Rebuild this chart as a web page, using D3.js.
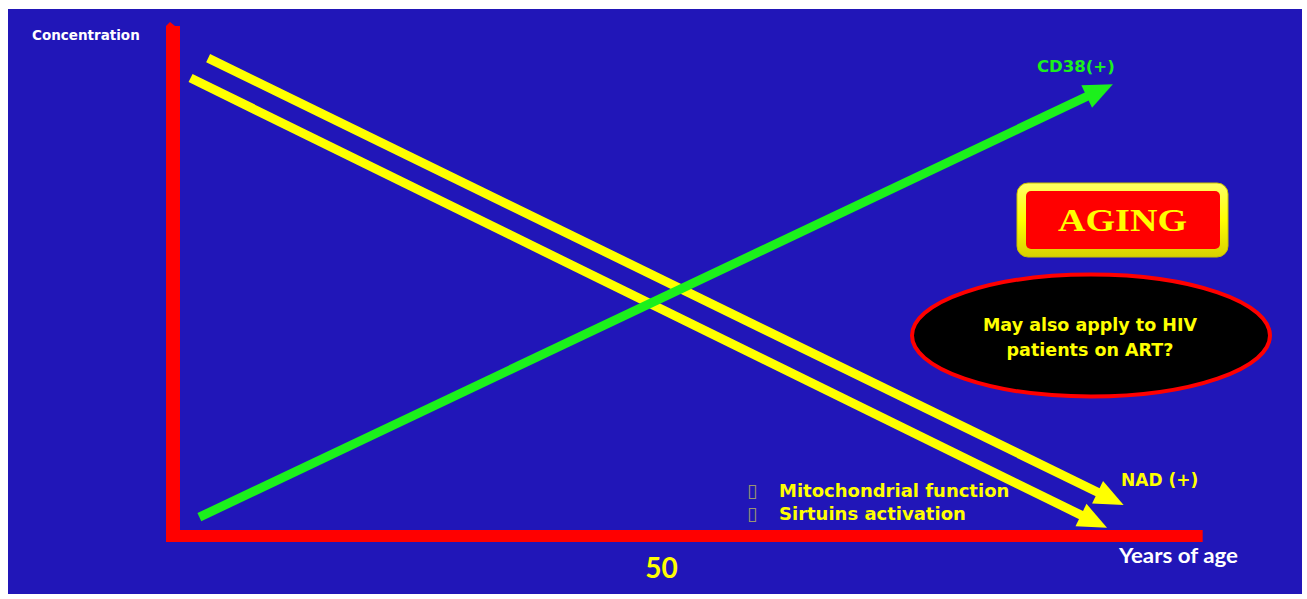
<!DOCTYPE html>
<html>
<head>
<meta charset="utf-8">
<script src="https://cdn.jsdelivr.net/npm/d3@7"></script>
<style>
  html, body { margin: 0; padding: 0; background: #ffffff; }
  svg { display: block; }
</style>
</head>
<body>
<svg id="chart" width="1307" height="599"></svg>
<script>
// Age axis ticks and axis titles
const ageTicks = [50];
const axisTitles = { y: "Concentration", x: "Years of age" };

// Trend arrows: start and end points (age, relative concentration)
const cd38Trend = [{ age: 2.7, value: 3.7 }, { age: 96.3, value: 88.6 }];
const nadTrendUpper = [{ age: 3.6, value: 93.7 }, { age: 97.4, value: 6.1 }];
const nadTrendLower = [{ age: 1.8, value: 89.8 }, { age: 95.7, value: 1.6 }];

const seriesLabels = ["CD38(+)", "NAD (+)"];
const bulletLabels = ["Mitochondrial function", "Sirtuins activation"];
const calloutTitle = "AGING";
const calloutQuestion = ["May also apply to HIV", "patients on ART?"];

const svg = d3.select("#chart");

const BLUE = "#2116b8", RED = "#ff0000", YELLOW = "#ffff00", GREEN = "#1cf01c";

// Panel background
svg.append("rect").attr("x", 8).attr("y", 9).attr("width", 1294).attr("height", 585).attr("fill", BLUE);

// Scales
const x = d3.scaleLinear().domain([0, 100]).range([173, 1149]);
const y = d3.scaleLinear().domain([0, 100]).range([536, 26]);

// Axis bars
const axisG = svg.append("g");
axisG.append("rect")
  .attr("x", x(0) - 7).attr("y", y(100))
  .attr("width", 14).attr("height", y(0) - 6 - y(100))
  .attr("fill", RED);
axisG.append("path")
  .attr("d", `M${x(0) - 7},${y(100)}L${x(0) - 3},${y(100) - 4}L${x(0) + 7},${y(100) + 4}Z`)
  .attr("fill", RED);
axisG.append("rect")
  .attr("x", x(0) - 7).attr("y", y(0) - 6)
  .attr("width", x(105.5) - (x(0) - 7)).attr("height", 12)
  .attr("fill", RED);

// Age tick label via a bottom axis
const xAxis = d3.axisBottom(x).tickValues(ageTicks).tickSize(0).tickPadding(0);
const xAxisG = svg.append("g").attr("transform", `translate(0,${y(0)})`).call(xAxis);
xAxisG.select(".domain").remove();
xAxisG.selectAll(".tick text")
  .attr("y", 42).attr("dy", 0)
  .attr("fill", YELLOW)
  .attr("font-family", "Lato, 'Open Sans', sans-serif")
  .attr("font-weight", "bold")
  .attr("font-size", 28)
  .attr("text-anchor", "middle");

// Axis titles
svg.append("text").text(axisTitles.y)
  .attr("x", 32).attr("y", 40)
  .attr("fill", "#ffffff")
  .attr("font-family", "'DejaVu Sans', sans-serif")
  .attr("font-weight", "bold").attr("font-size", 13.5);
svg.append("text").text(axisTitles.x)
  .attr("x", 1119).attr("y", 563)
  .attr("textLength", 119).attr("lengthAdjust", "spacingAndGlyphs")
  .attr("fill", "#ffffff")
  .attr("font-family", "Lato, sans-serif")
  .attr("font-weight", "bold").attr("font-size", 21);

// Arrow drawing
const shaft = d3.line();
function drawArrow(data, color) {
  const p0 = [x(data[0].age), y(data[0].value)];
  const p1 = [x(data[1].age), y(data[1].value)];
  const dx = p1[0] - p0[0], dy = p1[1] - p0[1];
  const len = Math.hypot(dx, dy);
  const ux = dx / len, uy = dy / len, nx = -uy, ny = ux;
  const headLen = 29, headHalf = 12.5;
  const bx = p1[0] - ux * headLen, by = p1[1] - uy * headLen;
  const g = svg.append("g");
  g.append("path")
    .attr("d", shaft([p0, [bx + ux * 3, by + uy * 3]]))
    .attr("stroke", color).attr("stroke-width", 9).attr("fill", "none");
  g.append("path")
    .attr("d", `M${p1[0]},${p1[1]}L${bx + nx * headHalf},${by + ny * headHalf}L${bx - nx * headHalf},${by - ny * headHalf}Z`)
    .attr("fill", color);
}
drawArrow(nadTrendUpper, YELLOW);
drawArrow(nadTrendLower, YELLOW);
drawArrow(cd38Trend, GREEN);

// Series labels
svg.append("text").text(seriesLabels[0])
  .attr("x", 1037).attr("y", 72)
  .attr("fill", GREEN)
  .attr("font-family", "'DejaVu Sans', sans-serif")
  .attr("font-weight", "bold").attr("font-size", 16.5);
svg.append("text").text(seriesLabels[1])
  .attr("x", 1121).attr("y", 486)
  .attr("fill", YELLOW)
  .attr("font-family", "'DejaVu Sans', sans-serif")
  .attr("font-weight", "bold").attr("font-size", 17);

// Bullet list
const bullets = svg.append("g");
bulletLabels.forEach((t, i) => {
  const by = 497 + i * 23;
  bullets.append("text").text("\u25AF")
    .attr("x", 747).attr("y", by)
    .attr("fill", "#9a9670")
    .attr("font-family", "'DejaVu Sans', sans-serif")
    .attr("font-size", 19);
  bullets.append("text").text(t)
    .attr("x", 779).attr("y", by)
    .attr("fill", YELLOW)
    .attr("font-family", "'DejaVu Sans', sans-serif")
    .attr("font-weight", "bold").attr("font-size", 18);
});

// AGING badge
const defs = svg.append("defs");
const grad = defs.append("linearGradient").attr("id", "bevel").attr("x1", 0).attr("y1", 0).attr("x2", 0).attr("y2", 1);
grad.append("stop").attr("offset", "0%").attr("stop-color", "#ffff66");
grad.append("stop").attr("offset", "50%").attr("stop-color", "#ffff00");
grad.append("stop").attr("offset", "100%").attr("stop-color", "#d8d000");
const badge = svg.append("g");
badge.append("rect")
  .attr("x", 1017).attr("y", 183).attr("width", 211).attr("height", 74).attr("rx", 11)
  .attr("fill", "url(#bevel)").attr("stroke", "#c9c000").attr("stroke-width", 1);
badge.append("rect")
  .attr("x", 1026).attr("y", 191).attr("width", 194).attr("height", 58).attr("rx", 5)
  .attr("fill", RED);
badge.append("text").text(calloutTitle)
  .attr("x", 1058).attr("y", 231)
  .attr("textLength", 129).attr("lengthAdjust", "spacingAndGlyphs")
  .attr("fill", YELLOW)
  .attr("font-family", "'Liberation Serif', 'Times New Roman', serif")
  .attr("font-weight", "bold").attr("font-size", 31);

// Question ellipse
const callout = svg.append("g");
callout.append("ellipse")
  .attr("cx", 1091).attr("cy", 335.5).attr("rx", 179).attr("ry", 61)
  .attr("fill", "#000000").attr("stroke", RED).attr("stroke-width", 4);
calloutQuestion.forEach((t, i) => {
  callout.append("text").text(t)
    .attr("x", 1090).attr("y", 331 + i * 25)
    .attr("text-anchor", "middle")
    .attr("fill", YELLOW)
    .attr("font-family", "'DejaVu Sans', sans-serif")
    .attr("font-weight", "bold").attr("font-size", 17.5);
});
</script>
</body>
</html>
